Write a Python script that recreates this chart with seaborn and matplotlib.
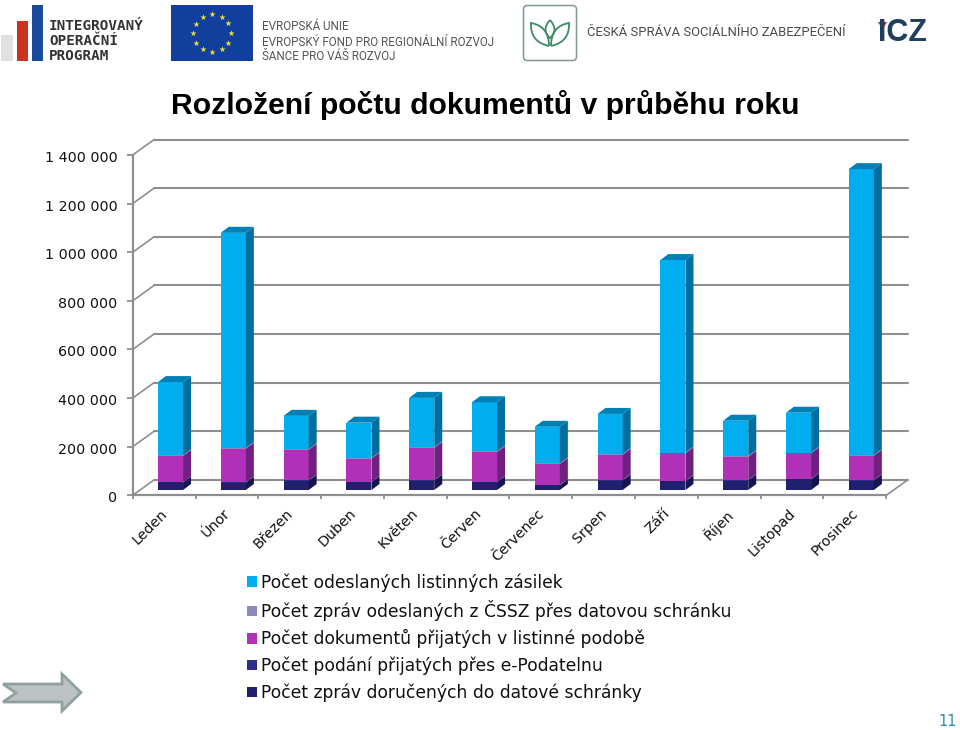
import numpy as np
import matplotlib
matplotlib.use("Agg")
import matplotlib.pyplot as plt
import seaborn as sns
from matplotlib.patches import FancyBboxPatch, PathPatch, Patch, Polygon, Rectangle
from matplotlib.path import Path
from matplotlib.transforms import Affine2D

mesice = ["Leden", "Únor", "Březen", "Duben", "Květen", "Červen", "Červenec", "Srpen",
          "Září", "Říjen", "Listopad", "Prosinec"]

# values in thousands
dorucene = [31, 30, 38, 32, 39, 32, 19, 39, 35, 39, 44, 39]
podani = [2, 2, 2, 2, 2, 2, 2, 2, 2, 2, 2, 2]
prijate = [107, 138, 125, 95, 132, 122, 86, 104, 114, 96, 105, 100]
zpravy = [3, 3, 3, 3, 3, 3, 3, 3, 3, 3, 3, 3]
listinne = [301, 885, 137, 145, 203, 202, 150, 165, 792, 145, 164, 1176]

y_ticks = [0, 200000, 400000, 600000, 800000, 1000000, 1200000, 1400000]
y_labels = ["0", "200 000", "400 000", "600 000", "800 000", "1 000 000", "1 200 000", "1 400 000"]

nazvy = ["Počet odeslaných listinných zásilek",
         "Počet zpráv odeslaných z ČSSZ přes datovou schránku",
         "Počet dokumentů přijatých v listinné podobě",
         "Počet podání přijatých přes e-Podatelnu",
         "Počet zpráv doručených do datové schránky"]
legend_colors = ["#00aeef", "#8c88b8", "#b030b8", "#2e2d8c", "#20206e"]

W, H = 960, 730
LEFT, ZERO, TOP = 132.7, 495.3, 155.0
STEP = 62.8
PX_X = 1 / STEP
PX_Y = 1400000 / (ZERO - TOP)
GRID = "#8e8e8e"

sns.set_theme(style="white")
plt.rcParams["font.family"] = ["DejaVu Sans"]

fig = plt.figure(figsize=(W / 100, H / 100), dpi=100)
ax = fig.add_axes([LEFT / W, (H - ZERO) / H, 12 * STEP / W, (ZERO - TOP) / H])

# stacked bars from the bottom up, with side colours for the fake 3D look
serie = [(dorucene, "#20206e", "#14144e"),
         (podani, "#2e2d8c", "#1c1b60"),
         (prijate, "#b030b8", "#6f2080"),
         (zpravy, "#8c88b8", "#66628f"),
         (listinne, "#00aeef", "#006f9f")]

dno = np.zeros(12)
for hodnoty, barva, _ in serie:
    v = np.array(hodnoty) * 1000.0
    sns.barplot(x=mesice, y=v, bottom=dno, color=barva, saturation=1, width=0.4,
                errorbar=None, linewidth=0, ax=ax)
    dno = dno + v

ax.set_xlim(-0.5, 11.5)
ax.set_ylim(0, 1400000)

# bars stand part way into the floor
bar_dx = 6.4 * PX_X
bar_dy = 5.3 * PX_Y
hloubka_x = 8 * PX_X
hloubka_y = 6 * PX_Y
for kontejner, (_, _, bok) in zip(ax.containers, serie):
    for r in kontejner:
        r.set_x(r.get_x() + bar_dx)
        r.set_y(r.get_y() + bar_dy)
        r.set_zorder(3)
        x1 = r.get_x() + r.get_width()
        y0, y1 = r.get_y(), r.get_y() + r.get_height()
        ax.add_patch(Polygon([(x1, y0), (x1 + hloubka_x, y0 + hloubka_y),
                              (x1 + hloubka_x, y1 + hloubka_y), (x1, y1)],
                             fc=bok, ec="none", zorder=3, clip_on=False))
for r in ax.containers[-1]:
    x0, x1 = r.get_x(), r.get_x() + r.get_width()
    y1 = r.get_y() + r.get_height()
    ax.add_patch(Polygon([(x0, y1), (x1, y1), (x1 + hloubka_x, y1 + hloubka_y),
                          (x0 + hloubka_x, y1 + hloubka_y)],
                         fc="#0080b4", ec="none", zorder=3, clip_on=False))

# back wall gridlines and the diagonals going to them
zad_x = 21.5 * PX_X
zad_y = 15.5 * PX_Y
for t in y_ticks:
    ax.plot([-0.5 + zad_x, 11.5 + zad_x], [t + zad_y, t + zad_y], color=GRID, lw=1.5,
            zorder=1, clip_on=False)
    ax.plot([-0.5, -0.5 + zad_x], [t, t + zad_y], color=GRID, lw=1.2, zorder=1, clip_on=False)
ax.plot([11.5, 11.5 + zad_x], [0, zad_y], color=GRID, lw=1.2, zorder=1, clip_on=False)

for s in ["top", "right"]:
    ax.spines[s].set_visible(False)
for s in ["left", "bottom"]:
    ax.spines[s].set_color(GRID)
    ax.spines[s].set_linewidth(1.6)

ax.set_yticks(y_ticks, labels=y_labels)
ax.set_xticks(np.arange(-0.5, 12), labels=[])
ax.set_xticks(np.arange(12) - 4 * PX_X, labels=mesice, minor=True)
ax.tick_params(axis="y", length=4, width=1.3, color=GRID, labelsize=10.3, pad=7, labelcolor="#111111", left=True)
ax.tick_params(axis="x", which="major", length=3, width=1.3, color=GRID, bottom=True)
ax.tick_params(axis="x", which="minor", length=0, labelsize=10.3, pad=8, labelcolor="#111111")
for lab in ax.get_xticklabels(minor=True):
    lab.set_rotation(45)
    lab.set_ha("right")
    lab.set_rotation_mode("anchor")
    lab.set_va("top")
for lab in ax.get_yticklabels():
    lab.set_va("center_baseline")
    lab.set_transform(lab.get_transform() + Affine2D().translate(0, -1.5))

fig.text(485.5 / W, 1 - 105 / H, "Rozložení počtu dokumentů v průběhu roku", family="Liberation Sans",
         weight="bold", fontsize=21.7, ha="center", va="center", color="black")

handles = [Patch(fc=c, ec="none") for c in legend_colors]
fig.legend(handles, nazvy, loc="upper left", bbox_to_anchor=(247 / W, 1 - 573 / H), frameon=False,
           fontsize=12.3, labelcolor="#111111", handlelength=0.58, handleheight=0.58,
           handletextpad=0.22, labelspacing=0.49, borderpad=0, borderaxespad=0)

# header logos and footer drawn in pixel coordinates
bg = fig.add_axes([0, 0, 1, 1], zorder=-1)
bg.set_xlim(0, W)
bg.set_ylim(H, 0)
bg.axis("off")

bg.add_patch(Rectangle((1, 35), 12, 26, fc="#e0e1e2", ec="none"))
bg.add_patch(Rectangle((17, 21), 11, 40, fc="#c8341c", ec="none"))
bg.add_patch(Rectangle((32, 5), 11, 56, fc="#1a4a9c", ec="none"))
for y, t in zip([26, 41, 56], ["INTEGROVANÝ", "OPERAČNÍ", "PROGRAM"]):
    bg.text(49, y, t, family="DejaVu Sans Mono", weight="bold", fontsize=10.3, color="#333333", va="center")

bg.add_patch(Rectangle((171, 5), 82, 56, fc="#123f9e", ec="none"))
uhly = np.deg2rad(np.arange(0, 360, 30))
bg.scatter(212 + 19 * np.cos(uhly), 33 + 19 * np.sin(uhly), marker="*", s=22, c="#e8e23a", linewidths=0)
for y, t in zip([26, 43, 57], ["EVROPSKÁ UNIE", "EVROPSKÝ FOND PRO REGIONÁLNÍ ROZVOJ", "ŠANCE PRO VÁŠ ROZVOJ"]):
    bg.text(262, y, t, family="Roboto", fontsize=8.4, color="#555555", va="center")

bg.add_patch(FancyBboxPatch((525, 7), 50, 52, boxstyle="round,pad=1.5,rounding_size=4",
                            fc="white", ec="#7f9a8c", lw=1.1))
M, C = Path.MOVETO, Path.CURVE3
leaves = [[(549, 46), (530, 42), (531, 23), (549, 26), (549, 46)],
          [(551, 46), (570, 42), (569, 23), (551, 26), (551, 46)],
          [(550, 20), (541, 30), (550, 38), (559, 30), (550, 20)]]
for verts in leaves:
    bg.add_patch(PathPatch(Path(verts, [M, C, C, C, C]), fc="none", ec="#3d8a63", lw=1.3))
bg.text(587, 33, "ČESKÁ SPRÁVA SOCIÁLNÍHO ZABEZPEČENÍ", family="Roboto", fontsize=9.4,
        color="#4a4a4a", va="center")

bg.text(878, 33, "ICZ", family="Liberation Sans", weight="bold", fontsize=22, color="#1f3f5e", va="center")
bg.add_patch(Polygon([(878, 22), (887, 22), (884, 27), (881, 27)], fc="#c8202c", ec="none"))

bg.add_patch(Polygon([(3, 684), (62, 684), (62, 674), (81, 692.5), (62, 711), (62, 702), (3, 702), (16, 693)],
                     fc="#bcc2c2", ec="#8fa0a0", lw=2))
bg.text(948, 721, "11", fontsize=10.5, color="#2a8fb0", ha="center", va="center")

fig.savefig("out.png", dpi=100)
